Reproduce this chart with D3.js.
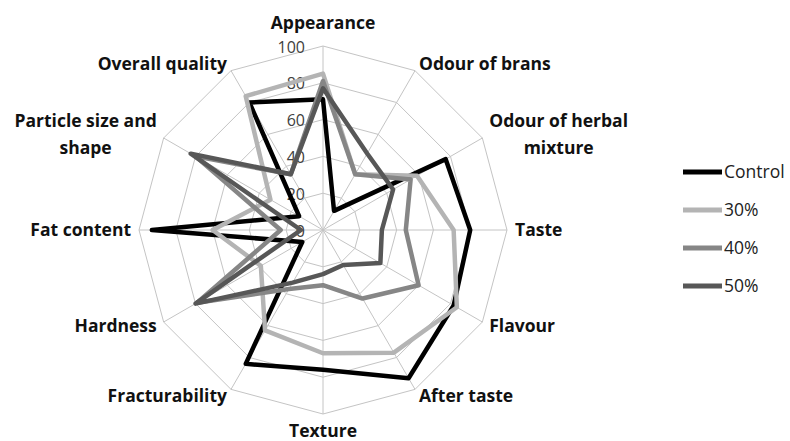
<!doctype html>
<html>
  <head>
    <script src="https://cdnjs.cloudflare.com/ajax/libs/d3/7.8.5/d3.min.js"></script>
  <style>
    body { margin: 0; background: #fff; }
    text { font-family: "Open Sans", Lato, sans-serif; }
  </style>
  </head>
  <body>
    <svg id="chart" width="790" height="441"></svg>
    <script>
      var attributes = ["Appearance", "Odour of brans", "Odour of herbal|mixture", "Taste", "Flavour",
        "After taste", "Texture", "Fracturability", "Hardness", "Fat content",
        "Particle size and|shape", "Overall quality"];
      var seriesNames = ["Control", "30%", "40%", "50%"];
      var control = [71, 12, 77, 80, 82, 93, 76, 84, 13, 93, 15, 80];
      var pct30   = [85, 35, 59, 71, 84, 77, 67, 63, 39, 60, 33, 84];
      var pct40   = [81, 35, 55, 45, 60, 43, 30, 37, 79, 23, 80, 35];
      var pct50   = [77, 48, 44, 32, 36, 22, 24, 33, 80, 12, 83, 35];
      var tickValues = [0, 20, 40, 60, 80, 100];

      var allSeries = [control, pct30, pct40, pct50];
      var colors = ["#000000", "#b4b4b4", "#868686", "#575757"];

      var svg = d3.select("#chart");
      svg.append("rect").attr("width", 790).attr("height", 441).attr("fill", "#fff");

      var cx = 323, cy = 230, R = 184;
      var rScale = d3.scaleLinear().domain([0, 100]).range([0, R]);
      var aScale = d3.scaleLinear().domain([0, attributes.length]).range([0, 2 * Math.PI]);

      var g = svg.append("g").attr("transform", "translate(" + cx + "," + cy + ")");

      // grid rings
      var ring = d3.lineRadial()
        .angle(function (d, i) { return aScale(i); })
        .radius(function (d) { return rScale(d); })
        .curve(d3.curveLinearClosed);

      g.selectAll("path.ring")
        .data(tickValues.slice(1))
        .enter()
        .append("path")
          .attr("class", "ring")
          .attr("d", function (v) { return ring(attributes.map(function () { return v; })); })
          .attr("fill", "none")
          .attr("stroke", "#c4c4c4")
          .attr("stroke-width", 1);

      // spokes
      g.selectAll("line.spoke")
        .data(attributes)
        .enter()
        .append("line")
          .attr("class", "spoke")
          .attr("x1", 0).attr("y1", 0)
          .attr("x2", function (d, i) { return rScale(100) * Math.sin(aScale(i)); })
          .attr("y2", function (d, i) { return -rScale(100) * Math.cos(aScale(i)); })
          .attr("stroke", "#c4c4c4")
          .attr("stroke-width", 1);

      // tick labels
      g.selectAll("text.tick")
        .data(tickValues)
        .enter()
        .append("text")
          .attr("class", "tick")
          .attr("x", -18)
          .attr("y", function (v) { return -rScale(v) + 1; })
          .attr("dy", "0.35em")
          .attr("text-anchor", "end")
          .attr("font-size", 16)
          .attr("fill", "#404040")
          .text(function (v) { return v; });

      // series
      g.selectAll("path.series")
        .data(allSeries)
        .enter()
        .append("path")
          .attr("class", "series")
          .attr("d", function (d) { return ring(d); })
          .attr("fill", "none")
          .attr("stroke", function (d, i) { return colors[i]; })
          .attr("stroke-width", 4.5)
          .attr("stroke-linejoin", "round");

      // axis labels
      var labelR = 192;
      attributes.forEach(function (name, i) {
        var a = aScale(i), s = Math.sin(a), c = Math.cos(a);
        var lines = name.split("|");
        var x = labelR * s, y = -labelR * c;
        var t = g.append("text")
          .attr("font-size", 17.5)
          .attr("font-weight", 700)
          .attr("fill", "#111");
        lines.forEach(function (l) { t.append("tspan").text(l); });
        var widths = [];
        t.selectAll("tspan").each(function () { widths.push(this.getComputedTextLength()); });
        var w = d3.max(widths), lh = 27, h = 16;
        var centerX;
        if (Math.abs(s) < 0.1) centerX = x;
        else if (s > 0) centerX = x + w / 2;
        else centerX = x - w / 2;
        var y0 = y - (lines.length - 1) * lh / 2;
        if (Math.abs(s) < 0.1) y0 += (c > 0 ? -h / 2 - 7 : h / 2 + 1);
        t.attr("text-anchor", "middle");
        t.selectAll("tspan")
          .attr("x", centerX)
          .attr("y", function (d, k) { return y0 + k * lh; })
          .attr("dy", "0.35em");
      });

      // legend
      var legend = svg.append("g").attr("transform", "translate(683,172)");
      var items = legend.selectAll("g.item")
        .data(seriesNames)
        .enter()
        .append("g")
          .attr("class", "item")
          .attr("transform", function (d, i) { return "translate(0," + (i * 38) + ")"; });
      items.append("line")
        .attr("x1", 0).attr("x2", 39)
        .attr("stroke", function (d, i) { return colors[i]; })
        .attr("stroke-width", 5);
      items.append("text")
        .attr("x", 41)
        .attr("dy", "0.35em")
        .attr("font-size", 17.5)
        .attr("fill", "#222")
        .text(function (d) { return d; });
    </script>
  </body>
</html>
